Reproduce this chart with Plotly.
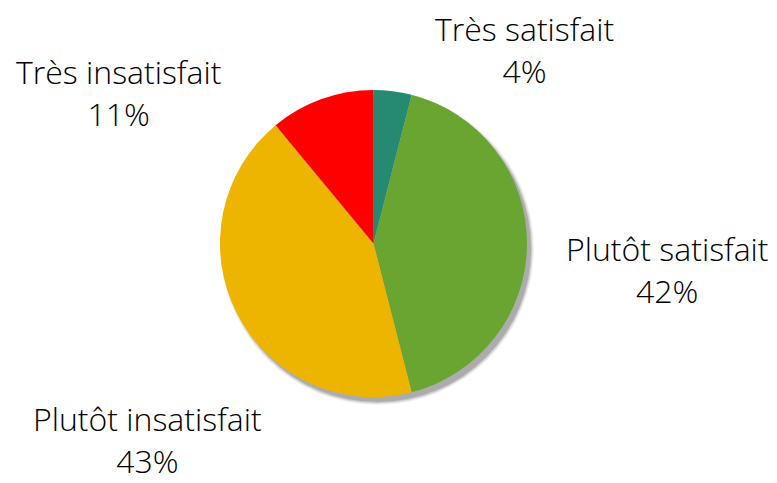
import plotly.graph_objects as go

categories = ["Très satisfait", "Plutôt satisfait", "Plutôt insatisfait", "Très insatisfait"]
values = [4, 42, 43, 11]
colors = ["#268A72", "#6AA532", "#EDB400", "#FF0000"]

W, H = 777, 483
cx, cy, r = 373.5, 243.5, 153.5

fig = go.Figure()
fig.add_trace(go.Pie(
    labels=categories, values=values, sort=False, direction="clockwise", rotation=0,
    marker=dict(colors=colors, line=dict(width=0)),
    textinfo="none", hoverinfo="label+percent", showlegend=False,
    domain=dict(x=[(cx - r) / W, (cx + r) / W], y=[1 - (cy + r) / H, 1 - (cy - r) / H]),
))

# soft shadow
for grow, op in [(3, 0.05), (2, 0.07), (1, 0.10), (0, 0.14)]:
    dx, dy = 4, 5
    fig.add_shape(type="circle", xref="paper", yref="paper", layer="below",
                  x0=(cx - r - grow + dx) / W, x1=(cx + r + grow + dx) / W,
                  y0=1 - (cy + r + grow + dy) / H, y1=1 - (cy - r - grow + dy) / H,
                  fillcolor=f"rgba(0,0,0,{op})", line=dict(width=0))

# (x centre, y pixel, y anchor)
label_pos = [(524, 49, "middle"), (667, 269, "middle"), (147, 483, "bottom"), (118, 92, "middle")]
total = sum(values)
for cat, v, (lx, ly, ya) in zip(categories, values, label_pos):
    fig.add_annotation(xref="paper", yref="paper", x=lx / W, y=1 - ly / H,
                       text=f"{cat}<br>{round(100 * v / total)}%", showarrow=False,
                       font=dict(family="Open Sans", size=32, color="#000000", weight=300),
                       align="center", xanchor="center", yanchor=ya, borderpad=0)

fig.update_layout(width=W, height=H, margin=dict(l=0, r=0, t=0, b=0),
                  paper_bgcolor="white", plot_bgcolor="white")
fig.write_html("out.html", config={"displayModeBar": False},
               post_script="document.body.style.margin='0';")
